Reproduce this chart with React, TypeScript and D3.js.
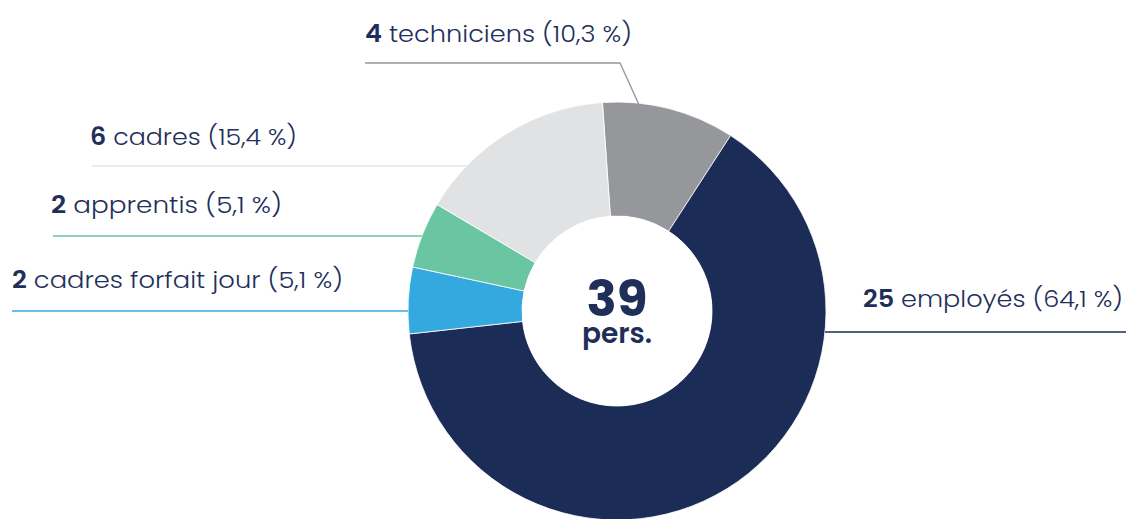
import React from "react";
import * as d3 from "d3";

const categories = ["techniciens", "employés", "cadres forfait jour", "apprentis", "cadres"];
const counts = [4, 25, 2, 2, 6];
const percentLabels = ["(10,3 %)", "(64,1 %)", "(5,1 %)", " (5,1 %)", "(15,4 %)"];
const colors = ["#96979b", "#1b2d57", "#34a9df", "#6ac6a2", "#e1e2e4"];
const totalLabel = "39";
const unitLabel = "pers.";

// label layout (positions only)
const labelLayout = [
  { x: 365, y: 42, lineY: 63, lineX0: 365, side: "top", w: 267 },
  { x: 863, y: 307, lineY: 332, lineX0: 1126, side: "right", w: 260 },
  { x: 12, y: 288, lineY: 311, lineX0: 12, side: "left", w: 331 },
  { x: 51, y: 213, lineY: 236, lineX0: 53, side: "left", w: 231 },
  { x: 90, y: 145, lineY: 166, lineX0: 92, side: "left", w: 207 },
];

const W = 1126;
const H = 519;
const cx = 617;
const cy = 311;
const outerR = 209;
const innerR = 95;
const textColor = "#1f2f5a";
const font = "Poppins, Inter, 'Open Sans', sans-serif";

export default function App() {
  const start = (-4 * Math.PI) / 180;
  const pie = d3
    .pie<number>()
    .sort(null)
    .value((d) => d)
    .startAngle(start)
    .endAngle(start + 2 * Math.PI);
  const arcs = pie(counts);
  const arc = d3.arc<d3.PieArcDatum<number>>().innerRadius(innerR).outerRadius(outerR);

  return (
    <svg
      width={W}
      height={H}
      style={{ position: "absolute", left: 0, top: 0, display: "block" }}
    >
      <rect width={W} height={H} fill="#ffffff" />
      <g transform={`translate(${cx},${cy})`}>
        {arcs.map((a, i) => (
          <path key={i} d={arc(a) || ""} fill={colors[i]} stroke="#ffffff" strokeWidth={0.8} />
        ))}
        <circle r={innerR} fill="#ffffff" />
      </g>
      {labelLayout.map((l, i) => {
        const dy = l.lineY - cy;
        const dx = Math.sqrt(Math.max(0, outerR * outerR - dy * dy));
        let path = "";
        if (l.side === "left") {
          path = `M${l.lineX0},${l.lineY}H${cx - dx}`;
        } else if (l.side === "right") {
          path = `M${cx + dx},${l.lineY}H${l.lineX0}`;
        } else {
          const ang = (6 * Math.PI) / 180;
          const ex = cx + (outerR - 1) * Math.sin(ang);
          const ey = cy - (outerR - 1) * Math.cos(ang);
          path = `M${l.lineX0},${l.lineY}H${620}L${ex},${ey}`;
        }
        return (
          <g key={i}>
            <path d={path} fill="none" stroke={colors[i] === "#e1e2e4" ? "#e4e5e7" : colors[i]} strokeWidth={1.3} />
            <text
              x={l.x}
              y={l.y}
              fontFamily={font}
              fontSize={24}
              fill={textColor}
              textLength={l.w}
              lengthAdjust="spacingAndGlyphs"
            >
              <tspan fontWeight={600}>{counts[i]}</tspan>
              <tspan fontWeight={300}>{` ${categories[i]} ${percentLabels[i].trimStart() === percentLabels[i] ? percentLabels[i] : " " + percentLabels[i].trimStart()}`}</tspan>
            </text>
          </g>
        );
      })}
      <text x={cx} y={316} textAnchor="middle" fontFamily={font} fontSize={50} fontWeight={700} fill={textColor}>
        {totalLabel}
      </text>
      <text x={cx} y={343} textAnchor="middle" fontFamily={font} fontSize={28} fontWeight={600} fill={textColor}>
        {unitLabel}
      </text>
    </svg>
  );
}
